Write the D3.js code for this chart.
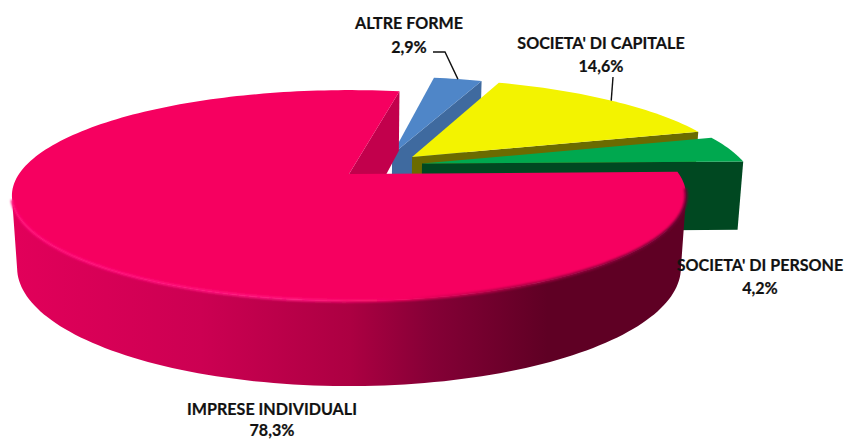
<!DOCTYPE html>
<html>

<head>
  <title>Imprese per forma giuridica</title>
  <script src="https://cdn.jsdelivr.net/npm/d3@7"></script>
  <style>
    html, body { margin: 0; background: #fff; }
    text { font-family: Lato, "Open Sans", sans-serif; font-weight: 700; font-size: 16.1px; fill: #111; stroke: #111; stroke-width: 0.2px; text-anchor: middle; }
  </style>
</head>

<body>
  <div id="chart"></div>
  <script>
    // values, in pie order (clockwise)
    const categories = ["IMPRESE INDIVIDUALI", "ALTRE FORME", "SOCIETA' DI CAPITALE", "SOCIETA' DI PERSONE"];
    const shares = [78.3, 2.9, 14.6, 4.2];
    const topColors = ["#f60060", "#4f86c8", "#f3f300", "#00a84f"];
    const wallColors = ["#c2004c", "#3f6a9f", "#6b6b00", "#004821"];

    // how far each slice is pulled out of the pie (unit circle coordinates)
    const explodeU = [0, 0.136, 0.198, 0.226];
    const explodeV = [0, -0.2, -0.175, -0.105];
    const labelX = [272, 409, 601, 760];
    const labelY = [415, 29, 49, 271];
    const percentY = [436, 53, 72, 294];

    const width = 844, height = 439;
    const persp = 0.204, wallDrop = 71, wallShrink = 0.015;
    const deg = Math.PI / 180;

    const svg = d3.select("#chart").append("svg")
      .attr("width", width).attr("height", height)
      .style("display", "block");

    const x = d3.scaleLinear().domain([-1, 1]).range([349 - 330, 349 + 330]);
    const y = d3.scaleLinear().domain([-1, 1]).range([174 - 101, 174 + 101]);

    const pie = d3.pie().sort(null).value(d => d)
      .startAngle(88.7 * deg)
      .endAngle((88.7 + 360) * deg);
    const slices = pie(shares);

    // unit circle point (plus depth z, 0 = top, 1 = bottom) to the screen
    function project(u, v, z) {
      const w = 1 - persp * v + wallShrink * z;
      return [x(0) + (x(u) - x(0)) / w, y(0) + (y(v) - y(0) + wallDrop * z) / w];
    }
    function rim(i, a, z) {
      return project(Math.sin(a) + explodeU[i], -Math.cos(a) + explodeV[i], z);
    }
    function apex(i, z) {
      return project(explodeU[i], explodeV[i], z);
    }
    function arcPoints(i, a0, a1, z) {
      const n = Math.max(2, Math.ceil((a1 - a0) * 40));
      return d3.range(n + 1).map(k => rim(i, a0 + (a1 - a0) * k / n, z));
    }
    const line = d3.line();

    const defs = svg.append("defs");
    const wallGrad = defs.append("linearGradient").attr("id", "wallGrad")
      .attr("gradientUnits", "userSpaceOnUse")
      .attr("x1", 11).attr("x2", 690).attr("y1", 0).attr("y2", 0);
    [[0, "#e2005a"], [0.28, "#cc0052"], [0.5, "#ac0042"], [0.62, "#850036"], [0.79, "#5f0024"], [1, "#5f0024"]]
      .forEach(s => wallGrad.append("stop").attr("offset", s[0]).attr("stop-color", s[1]));
    const rimGrad = defs.append("linearGradient").attr("id", "rimGrad")
      .attr("gradientUnits", "userSpaceOnUse")
      .attr("x1", 11).attr("x2", 690).attr("y1", 0).attr("y2", 0);
    [[0, "#ff0a78"], [0.42, "#ff1a80"], [0.58, "#f60060"], [0.72, "#b00045"], [1, "#6a0030"]]
      .forEach(s => rimGrad.append("stop").attr("offset", s[0]).attr("stop-color", s[1]));
    defs.append("filter").attr("id", "soft")
      .append("feGaussianBlur").attr("stdDeviation", 0.8);

    // back to front: the big slice goes last because it covers the others
    const drawOrder = [1, 2, 3, 0];
    drawOrder.forEach(i => {
      const d = slices[i];
      const g = svg.append("g").attr("class", "slice");

      // outer wall, only the part that faces the viewer
      const a0 = Math.max(d.startAngle, 102 * deg), a1 = Math.min(d.endAngle, 258 * deg);
      if (a0 < a1) {
        g.append("path")
          .attr("d", line(arcPoints(i, a0, a1, 0).concat(arcPoints(i, a0, a1, 1).reverse())) + "Z")
          .attr("fill", i === 0 ? "url(#wallGrad)" : wallColors[i]);
      }

      // inner wall along the clockwise end of the slice
      g.append("path")
        .attr("d", line([apex(i, 0), rim(i, d.endAngle, 0), rim(i, d.endAngle, 1), apex(i, 1)]) + "Z")
        .attr("fill", wallColors[i]);

      // top face
      g.append("path")
        .attr("d", line([apex(i, 0)].concat(arcPoints(i, d.startAngle, d.endAngle, 0))) + "Z")
        .attr("fill", topColors[i]);

      // soft bevel on the front edge of the big slice
      if (i === 0) {
        g.append("path")
          .attr("d", line(arcPoints(i, 98 * deg, 256 * deg, 0)))
          .attr("fill", "none")
          .attr("stroke", "url(#rimGrad)")
          .attr("stroke-width", 3)
          .attr("filter", "url(#soft)");
      }
    });

    // leader lines for the two labels at the back
    const leaders = [
      { i: 1, from: [[433, 52], [445, 52]] },
      { i: 2, from: [[613, 77]] }
    ];
    leaders.forEach(l => {
      const d = slices[l.i];
      const end = rim(l.i, (d.startAngle + d.endAngle) / 2, 0);
      svg.append("path")
        .attr("d", line(l.from.concat([end])))
        .attr("fill", "none")
        .attr("stroke", "#111")
        .attr("stroke-width", 1.4);
    });

    // labels
    categories.forEach((c, i) => {
      svg.append("text").attr("x", labelX[i]).attr("y", labelY[i]).text(c);
      svg.append("text").attr("x", labelX[i]).attr("y", percentY[i])
        .text(shares[i].toFixed(1).replace(".", ",") + "%");
    });
  </script>
</body>

</html>
